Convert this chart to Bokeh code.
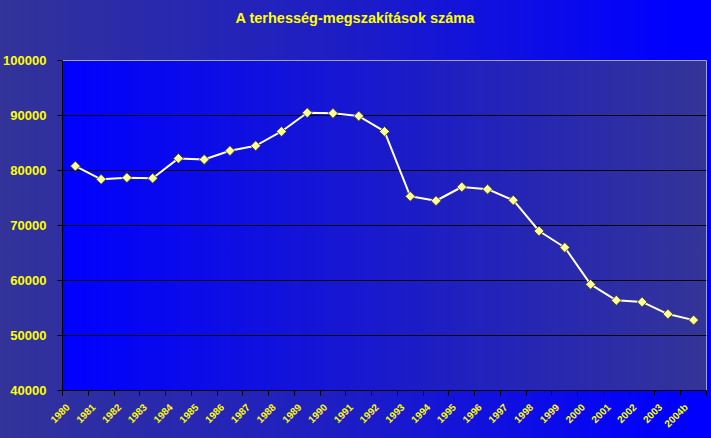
import math
from bokeh.plotting import figure
from bokeh.models import Range1d, FixedTicker, BasicTickFormatter, ColumnDataSource, Title
from bokeh.embed import file_html
from bokeh.resources import INLINE

# ---- data ----
title_text = "A terhesség-megszakítások száma"
years = ["1980", "1981", "1982", "1983", "1984", "1985", "1986", "1987", "1988",
         "1989", "1990", "1991", "1992", "1993", "1994", "1995", "1996", "1997",
         "1998", "1999", "2000", "2001", "2002", "2003", "2004b"]
values = [80800, 78400, 78700, 78600, 82200, 82000, 83600, 84500, 87100,
          90500, 90400, 89900, 87100, 75300, 74500, 77000, 76600, 74600,
          69000, 66000, 59300, 56400, 56100, 53900, 52800]
y_ticks = [40000, 50000, 60000, 70000, 80000, 90000, 100000]

positions = list(range(1, len(years) + 1))
source = ColumnDataSource(dict(x=positions, y=values, year=years))

W, H = 711, 438
p = figure(width=W, height=H, output_backend="svg", toolbar_location=None,
           x_range=Range1d(0.5, len(years) + 0.5),
           y_range=Range1d(y_ticks[0], y_ticks[-1]),
           min_border_left=62, min_border_right=5, min_border_top=60, min_border_bottom=48)

p.background_fill_color = None
p.border_fill_color = None
p.outline_line_color = "#a0a0e0"
p.outline_line_width = 1

# gradients via CSS: plot area on top of the whole-canvas gradient
p.styles = {
    "background": ("linear-gradient(to right, #0000ff, #343498) 62px 60px / 644px 330px no-repeat, "
                   "linear-gradient(to right, #333399 0px, #1c1cc8 360px, #0000ff 672px, #0000ff 711px)"),
}

# title: a blank spacer panel next to the frame, the real title above it
spacer = Title(text=" ", text_font_size="10px", standoff=12, text_color="#2020c0")
main_title = Title(text=title_text, align="left", offset=173, vertical_align="top", standoff=16,
                   text_color="#ffff00", text_font="Liberation Sans", text_font_style="bold",
                   text_font_size="14.5px")
p.title.text = ""
p.add_layout(spacer, "above")
p.add_layout(main_title, "above")

# grid
p.xgrid.visible = False
p.ygrid.ticker = FixedTicker(ticks=y_ticks[1:-1])
p.ygrid.grid_line_color = "black"
p.ygrid.grid_line_width = 1

# y axis
p.yaxis.ticker = FixedTicker(ticks=y_ticks)
p.yaxis.formatter = BasicTickFormatter(use_scientific=False)
p.yaxis.axis_line_color = "black"
p.yaxis.major_tick_line_color = "black"
p.yaxis.major_tick_out = 5
p.yaxis.major_tick_in = 0
p.yaxis.minor_tick_line_color = None
p.yaxis.major_label_standoff = 11
p.yaxis.major_label_text_color = "#ffff00"
p.yaxis.major_label_text_font = "Liberation Sans"
p.yaxis.major_label_text_font_style = "bold"
p.yaxis.major_label_text_font_size = "13px"

# x axis: tick marks at category boundaries, labels slightly left of the centres
label_pos = [pos - 0.29 for pos in positions]
p.xaxis.ticker = FixedTicker(ticks=label_pos,
                             minor_ticks=[i + 0.5 for i in range(len(years) + 1)])
p.xaxis.major_label_overrides = {lp: yr for lp, yr in zip(label_pos, years)}
p.xaxis.axis_line_color = "black"
p.xaxis.major_tick_out = 0
p.xaxis.major_tick_in = 0
p.xaxis.minor_tick_out = 5
p.xaxis.minor_tick_in = 0
p.xaxis.minor_tick_line_color = "black"
p.xaxis.major_label_orientation = math.pi / 4
p.xaxis.major_label_standoff = 10
p.xaxis.major_label_text_color = "#ffff00"
p.xaxis.major_label_text_font = "Liberation Sans"
p.xaxis.major_label_text_font_style = "bold"
p.xaxis.major_label_text_font_size = "10px"

# series
p.line("x", "y", source=source, line_color="#ffffe8", line_width=2)
p.scatter("x", "y", source=source, marker="square", angle=math.pi / 4, size=7,
          fill_color="#ffff99", line_color="#404010", line_width=0.8)

open("out.html", "w").write(file_html(p, INLINE))
